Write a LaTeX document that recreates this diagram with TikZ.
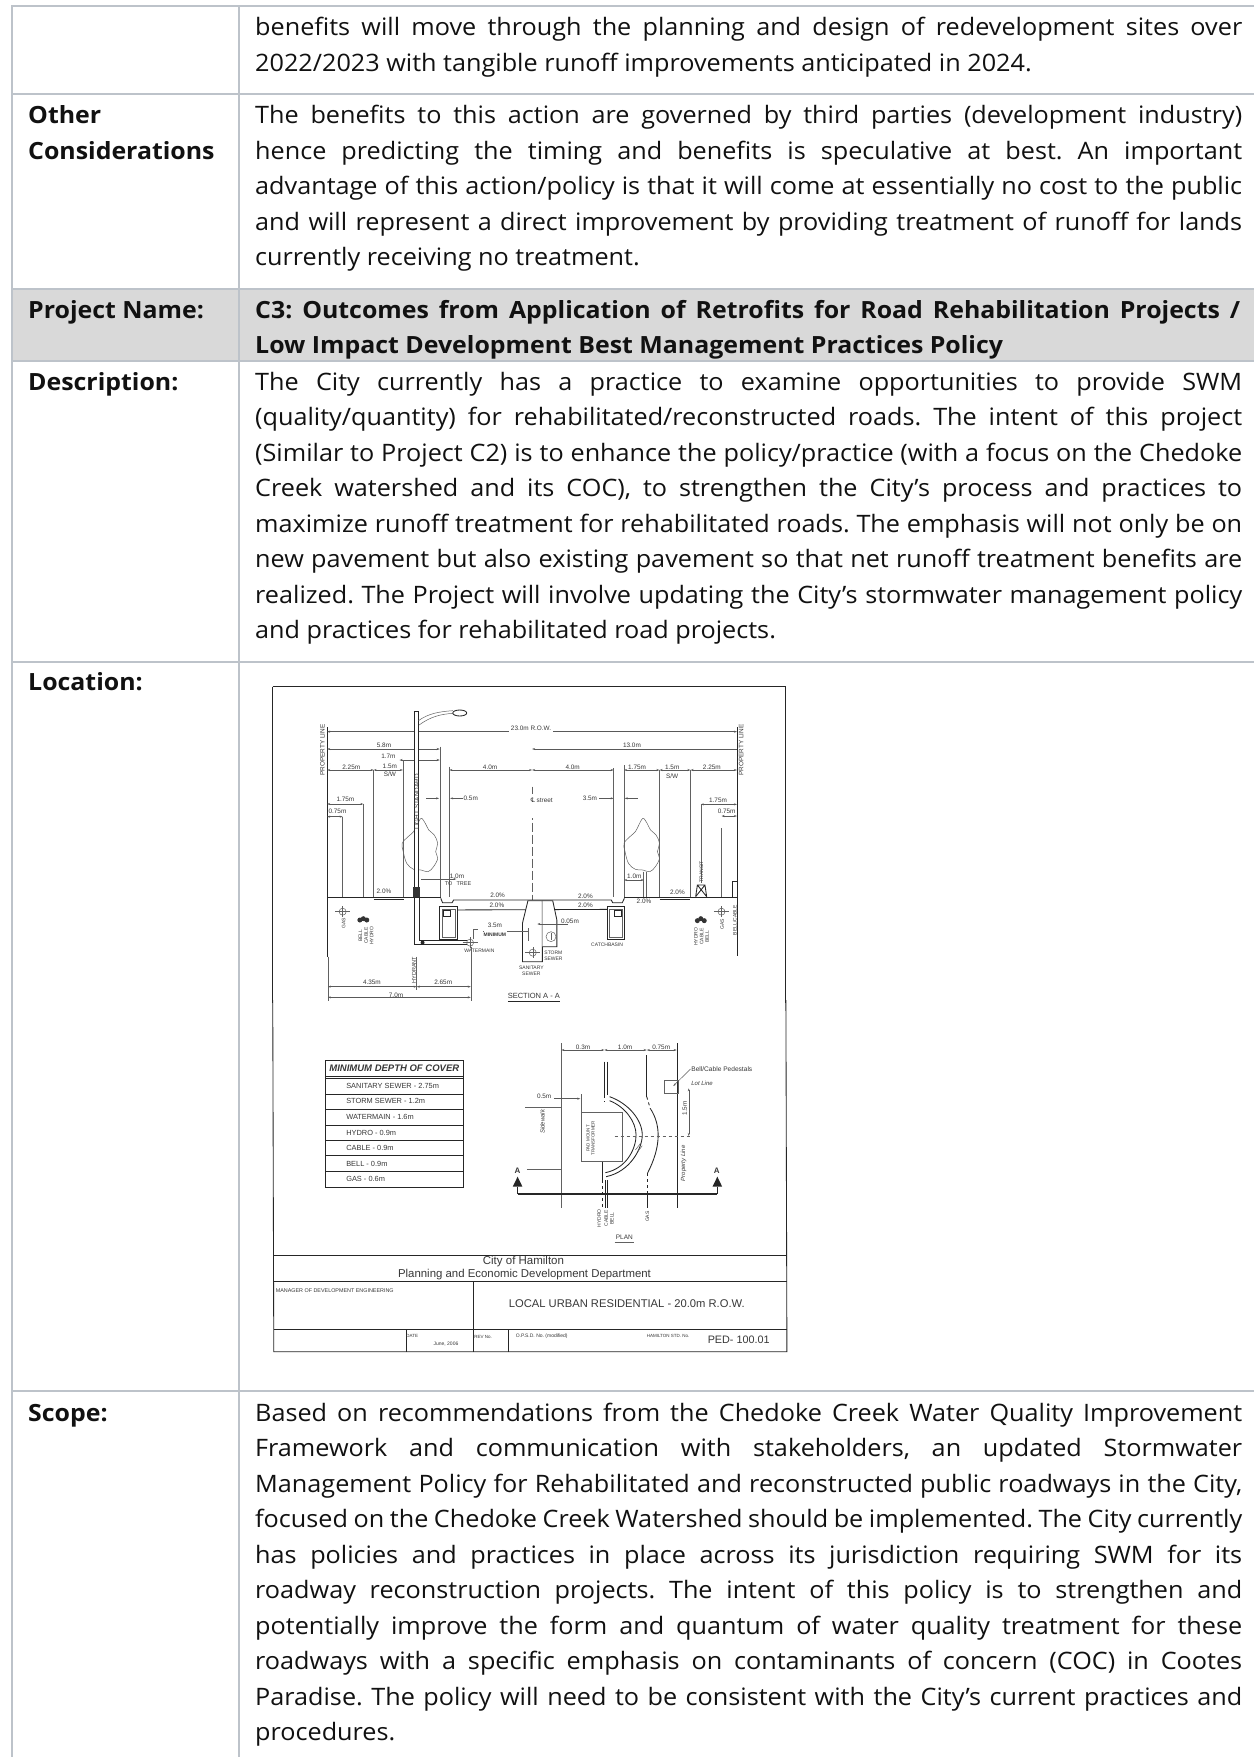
\documentclass[tikz,border=0pt]{standalone}
\usepackage{fontspec}
\setmainfont{Open Sans}[FakeStretch=1.05]
\newfontfamily\dr{Liberation Sans}
\newfontfamily\djv{DejaVu Sans}
\usetikzlibrary{arrows.meta}
\frenchspacing
\newcounter{lc}
\definecolor{tb}{HTML}{BDC3CA}
\definecolor{hd}{HTML}{D9D9D9}
\definecolor{ink}{HTML}{111111}
\tikzset{
 rule/.style={draw=tb,line width=1.5pt},
 body/.style={anchor=base west,inner sep=0pt,text=ink,font=\fontsize{24}{28}\selectfont},
 bold/.style={body,font=\fontsize{23.7}{28}\selectfont\bfseries},
 dtxt/.style={inner sep=0pt,text=black!78,font=\dr\fontsize{6.4}{7}\selectfont},
 ln/.style={draw=black!62,line width=0.5pt},
 hv/.style={draw=black!85,line width=0.85pt},
 dm/.style={draw=black!65,line width=0.5pt,{Stealth[length=3pt,width=2pt]}-{Stealth[length=3pt,width=2pt]}},
 dr1/.style={draw=black!65,line width=0.5pt,-{Stealth[length=3pt,width=2pt]}},
}
\newcommand\jl[2]{\stepcounter{lc}\node[body] (t\thelc) at (255,#1) {\makebox[987pt][s]{#2}};}
\newcommand\pl[2]{\stepcounter{lc}\node[body] (t\thelc) at (255,#1) {#2};}
\newcommand\jb[2]{\stepcounter{lc}\node[bold] (t\thelc) at (255,#1) {\makebox[985pt][s]{#2}};}
\newcommand\pb[2]{\stepcounter{lc}\node[bold] (t\thelc) at (255,#1) {#2};}
\newcommand\lb[2]{\stepcounter{lc}\node[bold] (t\thelc) at (28,#1) {#2};}
\newcommand\dl[4][]{\stepcounter{lc}\node[dtxt,#1] (d\thelc) at (#2,#3) {#4};}
\newcommand\ctree[2]{\draw[ln,shift={(#1,#2)}] plot[smooth cycle,tension=.6] coordinates {(0,-85)(12,-70)(22,-50)(38,-35)(48,-10)(42,15)(48,35)(36,60)(20,75)(0,70)(-22,68)(-42,50)(-52,15)(-55,-10)(-38,-30)(-22,-45)(-12,-65)};}
\newcommand\sym[2]{\draw[ln] (#1,#2) circle (3.5pt);\draw[ln] (#1-22,#2) -- (#1+22,#2) (#1,#2-16) -- (#1,#2+16);}
\begin{document}
\begin{tikzpicture}[x=1pt,y=-1pt]
\useasboundingbox (0,0) rectangle (1254,1757);
\fill[white] (0,0) rectangle (1254,1757);
% table
\fill[hd] (12,289) rectangle (1254,361);
\draw[rule] (1254,6) -- (12,6) -- (12,1757);
\draw[rule] (239,6) -- (239,1757);
\draw[rule] (12,94) -- (1254,94);
\draw[rule] (12,289) -- (1254,289);
\draw[rule] (12,361) -- (1254,361);
\draw[rule] (12,662) -- (1254,662);
\draw[rule] (12,1391) -- (1254,1391);
\fill[white] (254,664) rectangle (802,1388);
% text
\jl{35}{benefits will move through the planning and design of redevelopment sites over}
\pl{71}{2022/2023 with tangible runoff improvements anticipated in 2024.}
\lb{123}{Other}
\lb{159}{Considerations}
\jl{123}{The benefits to this action are governed by third parties (development industry)}
\jl{159}{hence predicting the timing and benefits is speculative at best. An important}
\jl{194}{advantage of this action/policy is that it will come at essentially no cost to the public}
\jl{230}{and will represent a direct improvement by providing treatment of runoff for lands}
\pl{265}{currently receiving no treatment.}
\lb{318}{Project Name:}
\jb{318}{C3: Outcomes from Application of Retrofits for Road Rehabilitation Projects /}
\pb{353}{Low Impact Development Best Management Practices Policy}
\lb{390}{Description:}
\jl{390}{The City currently has a practice to examine opportunities to provide SWM}
\jl{425.5}{(quality/quantity) for rehabilitated/reconstructed roads. The intent of this project}
\jl{461}{(Similar to Project C2) is to enhance the policy/practice (with a focus on the Chedoke}
\jl{496.5}{Creek watershed and its COC), to strengthen the City’s process and practices to}
\jl{532}{maximize runoff treatment for rehabilitated roads. The emphasis will not only be on}
\jl{567}{new pavement but also existing pavement so that net runoff treatment benefits are}
\jl{603}{realized. The Project will involve updating the City’s stormwater management policy}
\pl{638}{and practices for rehabilitated road projects.}
\lb{690}{Location:}
\lb{1421}{Scope:}
\jl{1421}{Based on recommendations from the Chedoke Creek Water Quality Improvement}
\jl{1456.5}{Framework and communication with stakeholders, an updated Stormwater}
\jl{1492}{Management Policy for Rehabilitated and reconstructed public roadways in the City,}
\jl{1527}{focused on the Chedoke Creek Watershed should be implemented. The City currently}
\jl{1563}{has policies and practices in place across its jurisdiction requiring SWM for its}
\jl{1598}{roadway reconstruction projects. The intent of this policy is to strengthen and}
\jl{1634}{potentially improve the form and quantum of water quality treatment for these}
\jl{1669}{roadways with a specific emphasis on contaminants of concern (COC) in Cootes}
\jl{1705}{Paradise. The policy will need to be consistent with the City’s current practices and}
\pl{1740}{procedures.}
% ---------- section drawing
\begin{scope}[shift={(260,670)},x=0.34439pt,y=-0.33333pt]
\draw[hv] (37,50) -- (1527,50);
\draw[hv] (37,50) -- (37,1000);
\draw[hv] (1527,50) -- (1527,1000);
\draw[hv] (195,172) -- (195,860);
\draw[hv] (1385,172) -- (1385,858);
\dl[rotate=90]{181}{240}{PROPERTY LINE}
\dl[rotate=90]{1397}{240}{PROPERTY LINE}
\draw[dm] (195,185) -- (1385,185);
\fill[white] (722,170) rectangle (850,190);
\dl{787}{174}{23.0m R.O.W.}
\draw[dm] (195,237) -- (522,237);
\dl{360}{226}{5.8m}
\draw[dr1] (1385,237) -- (790,237);
\dl{1080}{226}{13.0m}
\draw[dm] (405,270) -- (522,270);
\dl{373}{260}{1.7m}
\draw[dm] (195,300) -- (330,300);
\dl{265}{291}{2.25m}
\draw[dm] (330,300) -- (415,300);
\dl{377}{288}{1.5m}
\dl{377}{312}{S/W}
\draw[dm] (550,300) -- (790,300);
\dl{668}{291}{4.0m}
\draw[dm] (790,300) -- (1027,300);
\dl{908}{291}{4.0m}
\draw[dm] (1057,300) -- (1160,300);
\dl{1095}{291}{1.75m}
\draw[dm] (1160,300) -- (1250,300);
\dl{1197}{291}{1.5m}
\dl{1197}{318}{S/W}
\draw[dm] (1250,300) -- (1385,300);
\dl{1312}{292}{2.25m}
\draw[dr1] (482,385) -- (520,385);
\draw[dr1] (590,385) -- (552,385);
\dl{612}{385}{0.5m}
\dl{958}{385}{3.5m}
\draw[dr1] (985,385) -- (1027,385);
\draw[dr1] (1097,385) -- (1059,385);
\draw[ln] (522,230) -- (522,680) (550,290) -- (550,680) (1027,295) -- (1027,680) (1057,285) -- (1057,680)
 (415,270) -- (415,680) (330,300) -- (330,680) (1160,300) -- (1160,680) (1250,300) -- (1250,680);
\draw[ln,dash pattern=on 9pt off 3pt] (790,350) -- (790,690);
\fill[white] (770,372) rectangle (860,445);
\dl{818}{392}{{\djv\char"2104} street}
\draw[dm] (195,402) -- (300,402);
\dl{248}{388}{1.75m}
\draw[dm] (195,440) -- (240,440);
\dl{225}{423}{0.75m}
\draw[ln] (240,440) -- (240,680) (300,402) -- (300,680);
\draw[dm] (1280,403) -- (1385,403);
\dl{1330}{390}{1.75m}
\draw[dm] (1340,438) -- (1385,438);
\dl{1355}{423}{0.75m}
\draw[ln] (1280,403) -- (1280,640) (1340,475) -- (1340,680);
% trees
\ctree{468}{530}
\ctree{1112}{530}
\draw[ln] (1113,605) -- (1113,680) (1122,605) -- (1122,680);
% lamp
\fill[white] (447,123) rectangle (460,680);
\draw[hv] (447,123) -- (447,680) (460,123) -- (460,680) (447,123) -- (460,123);
\draw[ln] (460,152) .. controls (490,130) and (520,125) .. (560,122) (462,165) .. controls (495,140) and (525,132) .. (562,130);
\draw[hv,fill=white] (580,129) ellipse (7pt and 3pt);
\dl[rotate=90]{456}{395}{LIGHT STANDARD}
% ground and road
\draw[hv] (195,681) -- (525,681) (1058,682) -- (1385,682);
\draw[hv] (525,685) -- (530,698) -- (558,698) -- (562,690) -- (1020,690) -- (1024,698) -- (1052,698) -- (1058,685);
\draw[hv] (530,720) -- (1050,718);
\draw[hv] (330,688) -- (418,688) (1160,688) -- (1250,688);
\draw[hv,fill=white] (522,708) rectangle (573,808);
\draw[ln] (529,718) rectangle (566,801);
\draw[hv] (533,722) rectangle (552,740);
\draw[hv,fill=white] (1008,708) rectangle (1058,808);
\draw[ln] (1015,718) rectangle (1051,801);
\draw[hv] (1030,722) rectangle (1050,740);
\draw[hv,fill=white] (778,692) -- (762,760) -- (762,875) -- (820,875) -- (820,692) -- cycle;
\draw[hv,fill=white] (820,692) -- (850,692) -- (862,750) -- (862,830) -- (824,830) -- (820,830);
\draw[ln] (778,775) -- (778,812) (648,785) -- (778,785);
\fill[white] (650,760) rectangle (716,800);
\draw[ln] (845,800) circle (5pt);
\sym{792}{848}
\draw[ln] (845,790) -- (845,810);
\dl{682}{767}{3.5m}
\dl[font=\dr\bfseries\fontsize{5}{6}\selectfont]{682}{793}{MINIMUM}
\draw[dr1] (895,762) -- (805,762);
\dl{900}{755}{0.05m}
\dl[align=center,font=\dr\fontsize{5}{5.6}\selectfont]{852}{858}{STORM\\SEWER}
\dl[align=center,font=\dr\fontsize{5}{5.6}\selectfont]{788}{902}{SANITARY\\SEWER}
\dl[font=\dr\fontsize{5}{6}\selectfont]{1008}{823}{CATCHBASIN}
\dl[font=\dr\fontsize{5}{6}\selectfont]{637}{842}{WATERMAIN}
% services
\draw[hv] (449,680) -- (449,824) -- (600,824);
\draw[hv] (462,680) -- (462,812) -- (600,812);
\fill[black!85] (472,818) circle (2pt);
\fill[black!80] (445,650) rectangle (464,680);
\sym{610}{818}
\draw[ln] (620,808) -- (620,778) -- (632,778);
\sym{240}{725}
\sym{1340}{725}
\dl[rotate=90,font=\dr\fontsize{5}{6}\selectfont]{243}{760}{GAS}
\dl[rotate=90,font=\dr\fontsize{5}{6}\selectfont]{1342}{762}{GAS}
\fill[black!80] (290,750) circle (2.5pt) (300,746) circle (2.5pt) (310,750) circle (2.5pt);
\fill[black!80] (1270,752) circle (2.5pt) (1280,746) circle (2.5pt) (1290,752) circle (2.5pt);
\dl[rotate=90,font=\dr\fontsize{5}{5.6}\selectfont,align=center]{308}{797}{BELL\\CABLE\\HYDRO}
\dl[rotate=90,font=\dr\fontsize{5}{5.6}\selectfont,align=center]{1282}{800}{HYDRO\\CABLE\\BELL}
\dl[rotate=90,font=\dr\fontsize{5}{6}\selectfont]{1379}{750}{BELL/CABLE}
\dl[rotate=90,font=\dr\fontsize{5}{6}\selectfont]{1282}{605}{TRANSIT}
\draw[hv] (1265,680) -- (1270,645) -- (1292,645) -- (1297,680) (1270,645) -- (1297,680) (1292,645) -- (1265,680);
\draw[hv] (1372,680) -- (1372,635) -- (1385,635);
% slopes
\dl{360}{665}{2.0\%}
\dl{690}{677}{2.0\%}
\dl{688}{705}{2.0\%}
\dl{945}{679}{2.0\%}
\dl{945}{707}{2.0\%}
\dl{1212}{668}{2.0\%}
\dl{1115}{695}{2.0\%}
\draw[dr1] (468,627) -- (570,627);
\dl{572}{618}{1.0m}
\dl[font=\dr\fontsize{5.5}{6}\selectfont]{548}{642}{TO}
\dl[font=\dr\fontsize{5.5}{6}\selectfont]{592}{642}{TREE}
\draw[dm] (1057,630) -- (1115,630);
\dl{1087}{618}{1.0m}
% bottom dims
\draw[ln] (455,860) -- (455,960) (612,830) -- (612,992) (197,860) -- (197,992);
\draw[dm] (197,950) -- (455,950);
\draw[dm] (455,950) -- (612,950);
\dl{325}{938}{4.35m}
\dl{532}{938}{2.65m}
\dl[rotate=90,font=\dr\fontsize{5.5}{6}\selectfont]{447}{900}{HYDRANT}
\draw[dm] (197,982) -- (612,982);
\dl{395}{975}{7.0m}
\dl[font=\dr\fontsize{7.5}{8}\selectfont]{795}{979}{SECTION A - A}
\end{scope}
% ---------- plan, table, title block
\begin{scope}[shift={(260,1000)},x=0.34439pt,y=-0.33333pt]
\draw[hv] (37,0) -- (40,1055) -- (1530,1055) -- (1527,0);
\draw[hv] (720,5) -- (870,5);
% cover table
\draw[hv] (190,180) rectangle (590,562);
\draw[hv] (190,228) -- (590,228) (190,235) -- (590,235) (190,282) -- (590,282) (190,327) -- (590,327) (190,375) -- (590,375) (190,420) -- (590,420) (190,467) -- (590,467) (190,514) -- (590,514);
\dl[font=\dr\bfseries\itshape\fontsize{9.5}{11}\selectfont]{390}{205}{MINIMUM DEPTH OF COVER}
\dl[anchor=west,font=\dr\fontsize{7.4}{8}\selectfont]{250}{258}{SANITARY SEWER - 2.75m}
\dl[anchor=west,font=\dr\fontsize{7.4}{8}\selectfont]{250}{304}{STORM SEWER - 1.2m}
\dl[anchor=west,font=\dr\fontsize{7.4}{8}\selectfont]{250}{351}{WATERMAIN - 1.6m}
\dl[anchor=west,font=\dr\fontsize{7.4}{8}\selectfont]{250}{398}{HYDRO - 0.9m}
\dl[anchor=west,font=\dr\fontsize{7.4}{8}\selectfont]{250}{444}{CABLE - 0.9m}
\dl[anchor=west,font=\dr\fontsize{7.4}{8}\selectfont]{250}{491}{BELL - 0.9m}
\dl[anchor=west,font=\dr\fontsize{7.4}{8}\selectfont]{250}{538}{GAS - 0.6m}
% plan
\draw[ln] (875,130) -- (875,625);
\draw[hv] (1213,130) -- (1213,625);
\draw[dm] (875,150) -- (1000,150);
\draw[dm] (1000,150) -- (1123,150);
\draw[dm] (1123,150) -- (1210,150);
\dl{938}{143}{0.3m}
\dl{1060}{143}{1.0m}
\dl{1165}{143}{0.75m}
\draw[ln] (770,322) -- (875,322) (775,507) -- (875,507);
\draw[ln] (933,337) rectangle (1053,485);
\draw[ln] (933,282) -- (933,337);
\draw[dr1] (853,296) -- (930,296);
\dl{825}{290}{0.5m}
\dl[rotate=90,font=\dr\itshape\fontsize{6}{7}\selectfont]{820}{365}{Sidewalk}
\dl[rotate=90,font=\dr\fontsize{4.5}{5}\selectfont,align=center]{960}{415}{PAD MOUNT\\TRANSFORMER}
\draw[hv] (1000,185) -- (1000,285) (1008,185) -- (1008,285);
\draw[hv,dashed] (1000,285) -- (1000,305);
\draw[hv] (1005,530) .. controls (1075,515) and (1110,445) .. (1110,405) .. controls (1110,360) and (1070,310) .. (1015,290);
\draw[hv] (1003,518) .. controls (1065,505) and (1092,445) .. (1092,405) .. controls (1092,365) and (1060,320) .. (1015,302);
\draw[ln] (1090,450) -- (1105,430) (1097,455) -- (1110,437);
\draw[hv] (1123,165) -- (1123,290);
\draw[hv,dashed] (1123,290) -- (1133,325);
\draw[hv] (1133,325) .. controls (1165,375) and (1165,440) .. (1125,520);
\draw[hv,dashed] (1125,520) -- (1125,582);
\draw[hv] (1125,582) -- (1125,625);
\draw[hv] (993,485) -- (993,540);
\draw[hv,dashed] (993,540) -- (993,625);
\draw[hv] (1003,540) -- (1003,625) (1010,540) -- (1010,625);
\draw[ln,dashed] (1030,408) -- (1255,408);
\draw[line width=1.1pt,draw=black!85] (748,582) -- (1328,582);
\draw[hv] (748,582) -- (748,560) (1328,582) -- (1328,560);
\fill[black!85] (748,530) -- (734,560) -- (762,560) -- cycle (1328,530) -- (1314,560) -- (1342,560) -- cycle;
\dl[font=\dr\bfseries\fontsize{8}{9}\selectfont]{748}{512}{A}
\dl[font=\dr\bfseries\fontsize{8}{9}\selectfont]{1326}{512}{A}
\draw[ln] (1173,240) rectangle (1213,280);
\draw[dr1] (1250,207) -- (1200,258);
\dl[anchor=west,font=\dr\fontsize{6.6}{7}\selectfont]{1252}{207}{Bell/Cable Pedestals}
\dl[anchor=west,font=\dr\itshape\fontsize{6}{7}\selectfont]{1252}{250}{Lot Line}
\draw[dm] (1245,265) -- (1245,408);
\dl[rotate=90]{1233}{325}{1.5m}
\dl[rotate=90,font=\dr\itshape\fontsize{6}{7}\selectfont]{1230}{490}{Property Line}
\dl[rotate=90,font=\dr\fontsize{5}{6}\selectfont]{985}{655}{HYDRO}
\dl[rotate=90,font=\dr\fontsize{5}{6}\selectfont]{1005}{655}{CABLE}
\dl[rotate=90,font=\dr\fontsize{5}{6}\selectfont]{1022}{655}{BELL}
\dl[rotate=90,font=\dr\fontsize{5}{6}\selectfont]{1125}{650}{GAS}
\dl[font=\dr\fontsize{6.5}{7}\selectfont]{1058}{713}{PLAN}
\draw[ln] (1030,727) -- (1087,727);
% title block
\draw[hv] (40,765) -- (1530,765) (40,845) -- (1530,845) (40,988) -- (1530,988) (620,845) -- (620,1055) (425,988) -- (425,1055) (720,988) -- (720,1055);
\dl[font=\dr\fontsize{11.5}{13}\selectfont]{765}{786}{City of Hamilton}
\dl[font=\dr\fontsize{11.4}{13}\selectfont]{768}{825}{Planning and Economic Development Department}
\dl[font=\dr\fontsize{5.4}{6}\selectfont]{217}{873}{MANAGER OF DEVELOPMENT ENGINEERING}
\dl[font=\dr\fontsize{11.2}{13}\selectfont]{1065}{912}{LOCAL URBAN RESIDENTIAL - 20.0m R.O.W.}
\dl[font=\dr\fontsize{4.5}{5}\selectfont]{442}{1008}{DATE}
\dl[font=\dr\fontsize{5}{6}\selectfont]{540}{1033}{June, 2006}
\dl[font=\dr\fontsize{4.5}{5}\selectfont]{648}{1010}{REV No.}
\dl[font=\dr\fontsize{5}{6}\selectfont]{818}{1010}{O.P.S.D. No. (modified)}
\dl[font=\dr\fontsize{4.5}{5}\selectfont]{1185}{1008}{HAMILTON STD. No.}
\dl[font=\dr\fontsize{10.8}{12}\selectfont]{1390}{1018}{PED- 100.01}
\end{scope}
\end{tikzpicture}
\end{document}
